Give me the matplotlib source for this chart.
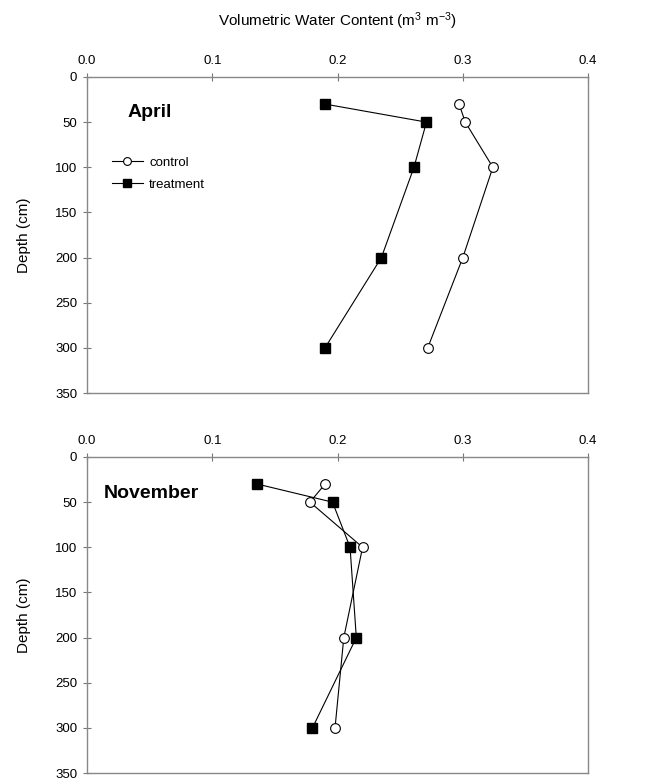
import matplotlib
matplotlib.use("Agg")
import matplotlib.pyplot as plt

plt.rcParams['font.family'] = ['Liberation Sans', 'DejaVu Sans']
plt.rcParams['mathtext.fontset'] = 'custom'
plt.rcParams['mathtext.rm'] = 'Liberation Sans'
plt.rcParams['mathtext.it'] = 'Liberation Sans'

depth = [30, 50, 100, 200, 300]

apr_control = [0.297, 0.302, 0.324, 0.300, 0.272]
apr_treatment = [0.190, 0.271, 0.261, 0.235, 0.190]

nov_control = [0.190, 0.178, 0.220, 0.205, 0.198]
nov_treatment = [0.136, 0.196, 0.210, 0.215, 0.180]

xticks = [0.0, 0.1, 0.2, 0.3, 0.4]
yticks = [0, 50, 100, 150, 200, 250, 300, 350]

fig = plt.figure(figsize=(6.66, 7.84), dpi=100)
ax1 = fig.add_axes([0.1306, 0.4987, 0.7524, 0.4031])
ax2 = fig.add_axes([0.1306, 0.0140, 0.7524, 0.4031])


def style(ax):
    ax.set_xlim(0, 0.4)
    ax.set_ylim(350, 0)
    ax.set_xticks(xticks)
    ax.set_xticklabels([f"{v:.1f}" for v in xticks])
    ax.set_yticks(yticks)
    ax.xaxis.tick_top()
    ax.tick_params(axis='both', labelsize=9.5, length=6, width=0.8,
                   color='#777777', direction='inout', pad=4)
    for s in ax.spines.values():
        s.set_color('#888888')
        s.set_linewidth(1.0)
    ax.set_ylabel("Depth (cm)", fontsize=11, labelpad=17)


def series(ax, ctrl, trt):
    ax.plot(ctrl, depth, '-o', color='black', lw=0.8, markersize=7,
            markerfacecolor='white', markeredgecolor='black',
            markeredgewidth=0.8, label='control', zorder=3)
    ax.plot(trt, depth, '-s', color='black', lw=0.8, markersize=6.5,
            markerfacecolor='black', markeredgecolor='black',
            label='treatment', zorder=3)


series(ax1, apr_control, apr_treatment)
style(ax1)
ax1.text(0.08, 0.888, "April", transform=ax1.transAxes, fontsize=14,
         fontweight='bold', ha='left', va='center')
leg = ax1.legend(loc='upper left', bbox_to_anchor=(0.04, 0.765),
                 frameon=False, fontsize=9.5, handlelength=2.3,
                 handletextpad=0.5, labelspacing=0.75, borderaxespad=0,
                 markerscale=0.8)
ax1.set_xlabel("Volumetric Water Content (m$^3$ m$^{-3}$)", fontsize=11,
               labelpad=21)
ax1.xaxis.set_label_position('top')

series(ax2, nov_control, nov_treatment)
style(ax2)
ax2.text(0.033, 0.883, "November", transform=ax2.transAxes, fontsize=14,
         fontweight='bold', ha='left', va='center')

fig.savefig("out.png", dpi=100)
